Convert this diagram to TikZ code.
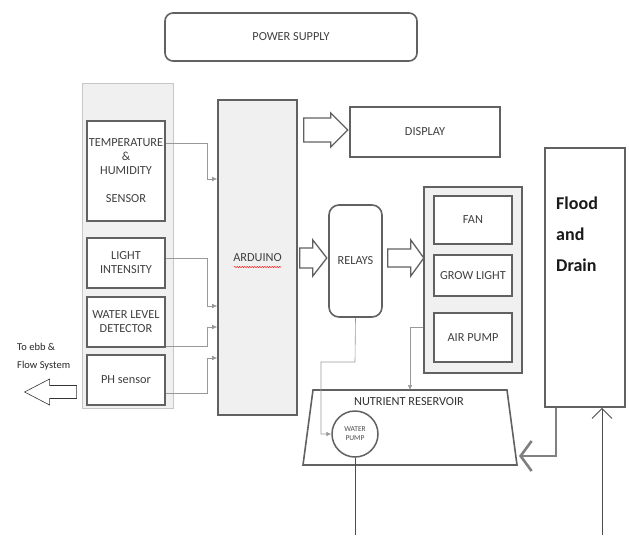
\documentclass[tikz,border=0pt]{standalone}
\usepackage{fontspec}
\setmainfont{Carlito}
\usetikzlibrary{arrows.meta,calc,decorations.pathmorphing}
\begin{document}
\begin{tikzpicture}[x=1pt,y=-1pt,
  box/.style={draw=black!62, line width=1.6pt, fill=white, inner sep=0pt,
    font=\fontsize{12.3}{14}\selectfont, text=black!75, align=center},
  conn/.style={draw=black!40, line width=0.6pt},
  tip/.style={-{Latex[length=5pt,width=4.5pt]}},
  blk/.style={draw=black!62, line width=1.3pt, fill=white, line join=miter}
]
\path[fill=white] (0,0) rectangle (629,535);

% power supply
\node[box, rounded corners=8pt, minimum width=252pt, minimum height=48pt] (power) at (291,37) {POWER SUPPLY};

% sensor panel
\node[draw=black!22, fill=black!6, line width=0.8pt, minimum width=91pt, minimum height=325pt, inner sep=0pt] (panel) at (127.5,245.5) {};
\node[box, minimum width=78pt, minimum height=100pt] (temp) at (126,171) {TEMPERATURE\\ \&\\ HUMIDITY\\[14pt] SENSOR};
\node[box, minimum width=78pt, minimum height=50pt] (light) at (126,263) {LIGHT\\ INTENSITY};
\node[box, minimum width=78pt, minimum height=50pt] (water) at (126,322) {WATER LEVEL\\ DETECTOR};
\node[box, minimum width=78pt, minimum height=50pt] (ph) at (126,380) {PH sensor};

% arduino
\node[box, fill=black!6, minimum width=79pt, minimum height=315pt] (ard) at (257.5,257.5) {ARDUINO};
\draw[red, line width=0.5pt, decorate, decoration={snake, amplitude=0.5pt, segment length=2.5pt}] (234,267) -- (281,267);

% display, relays
\node[box, minimum width=150pt, minimum height=50pt] (disp) at (425,132) {DISPLAY};
\node[box, rounded corners=10pt, minimum width=53pt, minimum height=112pt] (relays) at (355.5,261) {RELAYS};

% actuator group
\node[box, fill=black!6, minimum width=98pt, minimum height=186pt] (group) at (473,280) {};
\node[box, minimum width=78pt, minimum height=48pt] (fan) at (473,220) {FAN};
\node[box, minimum width=78pt, minimum height=41pt] (grow) at (473,275.5) {GROW LIGHT};
\node[box, minimum width=78pt, minimum height=49pt] (air) at (473,337.5) {AIR PUMP};

% flood and drain
\node[box, minimum width=80pt, minimum height=259pt] (flood) at (585,277.5) {};
\node[anchor=north west, inner sep=0pt, align=left, font=\fontsize{18}{31}\selectfont\bfseries, text=black!90] (fdtext) at (556,197) {Flood\\ and\\ Drain};

% reservoir
\draw[draw=black!62, line width=1.6pt, fill=white] (313,390) -- (507,390) -- (517,465) -- (303,465) -- cycle;
\coordinate (restop) at (410,390);
\coordinate (resright) at (519,456);
\node[inner sep=0pt, font=\fontsize{12.3}{13}\selectfont, text=black!80] (reslabel) at (409,402) {NUTRIENT RESERVOIR};
\node[circle, draw=black!62, line width=1.5pt, fill=white, minimum size=46pt, inner sep=0pt, align=center,
  font=\fontsize{7.5}{9}\selectfont, text=black!70] (pump) at (355,434) {WATER\\ PUMP};

% sensor connectors
\draw[conn,tip] (temp.east |- 0,143) -- (207,143) -- (207,179) -- (ard.west |- 0,179);
\draw[conn,tip] (light.east |- 0,258) -- (207,258) -- (207,306) -- (ard.west |- 0,306);
\draw[conn,tip] (water.east |- 0,346) -- (207,346) -- (207,327) -- (ard.west |- 0,327);
\draw[conn,tip] (ph.east |- 0,393) -- (207,393) -- (207,358) -- (ard.west |- 0,358);

% relays -> pump, group -> reservoir
\draw[conn,tip] (relays.south) -- (355,362) -- (321,362) -- (321,434) -- (pump.west);
\draw[conn,tip] (group.west |- 0,327) -- (410,327) -- (restop);

% block arrows
\draw[blk] ($(ard.east |- 0,130)+(6,0)$) ++(0,-12) -- ++(27,0) -- ++(0,-5) -- ++(17,17) -- ++(-17,17) -- ++(0,-5) -- ++(-27,0) -- cycle;
\draw[blk] ($(ard.east |- 0,258)+(2,0)$) ++(0,-10) -- ++(13,0) -- ++(0,-8) -- ++(14,18) -- ++(-14,18) -- ++(0,-8) -- ++(-13,0) -- cycle;
\draw[blk] ($(relays.east |- 0,258)+(5,0)$) ++(0,-9) -- ++(23,0) -- ++(0,-9) -- ++(13,18) -- ++(-13,18) -- ++(0,-9) -- ++(-23,0) -- cycle;

% to ebb & flow
\node[anchor=west, inner sep=0pt, align=left, font=\fontsize{10.5}{18}\selectfont, text=black!85] (ebb) at (17,357) {To ebb \&\\ Flow System};
\draw[draw=black!80, line width=0.6pt] ($(panel.west |- 0,392)+(-5,0)$) ++(0,-6.5) -- ++(-27,0) -- ++(0,-6.5) -- ++(-25,13) -- ++(25,13) -- ++(0,-6.5) -- ++(27,0) -- cycle;

% pump outlet, flood/drain pipes
\draw[black!70, line width=1pt] (pump.south) -- (355,535);
\draw[black!50, line width=2.6pt, -{Straight Barb[length=11pt,width=30pt]}] (556,0 |- flood.south) -- (556,456) -- (resright);
\coordinate (pipein) at (602,535);
\draw[black!70, line width=0.9pt, -{Straight Barb[length=10pt,width=20pt]}] (pipein) -- (602,0 |- flood.south);
\end{tikzpicture}
\end{document}
